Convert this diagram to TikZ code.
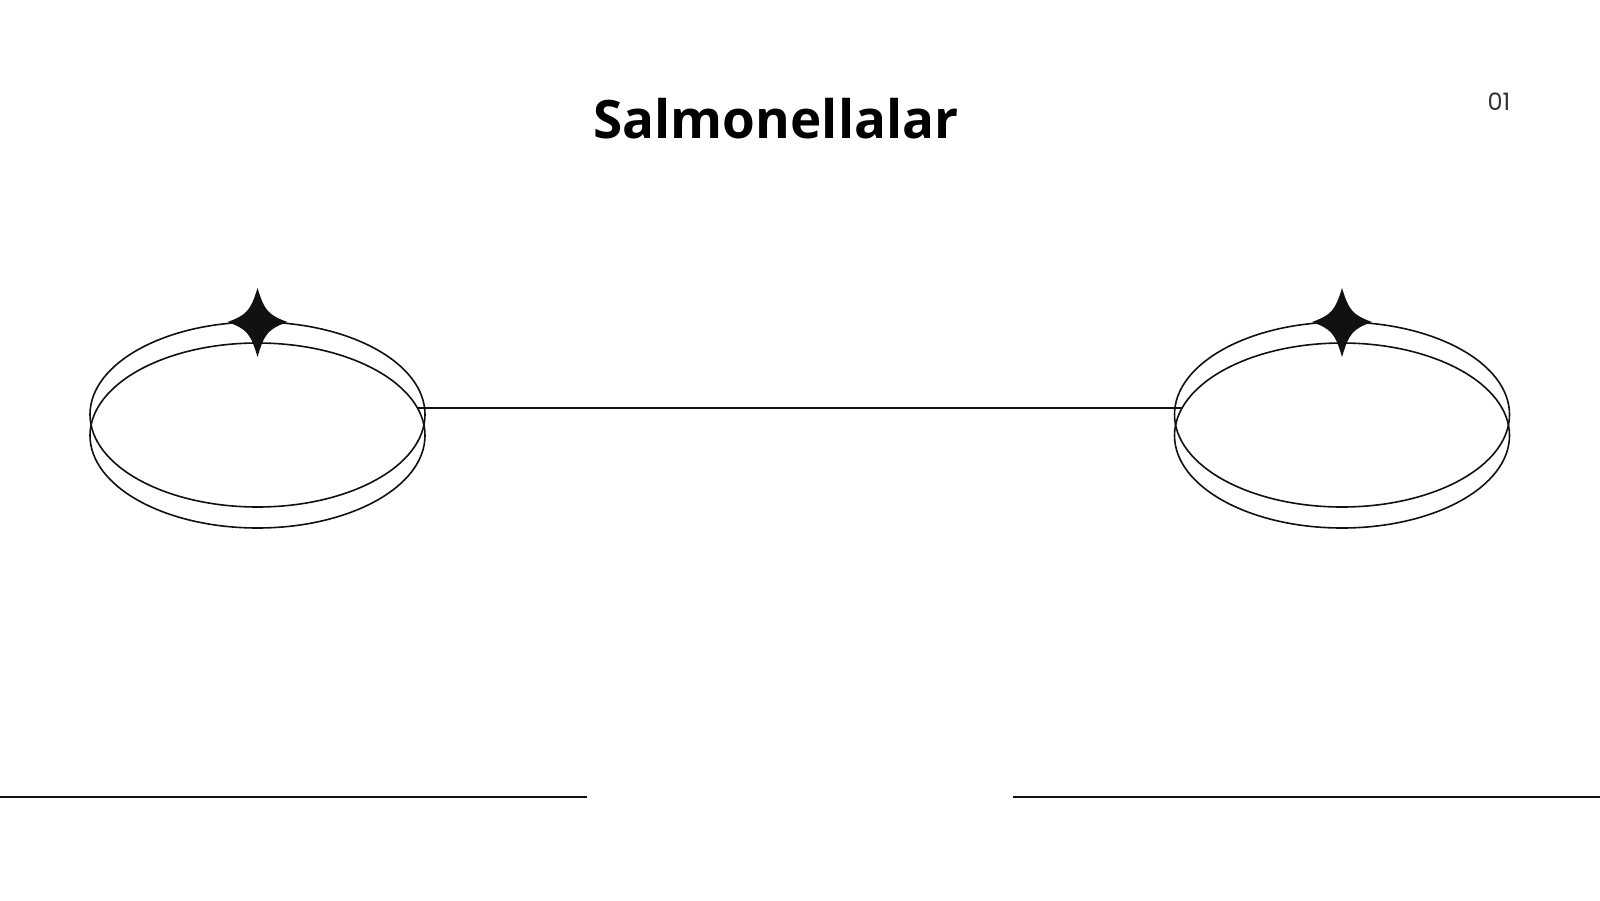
\documentclass[tikz,border=0pt]{standalone}
\usepackage{fontspec}
\usepackage{xcolor}
\usetikzlibrary{shapes.geometric}
\setmainfont{Open Sans}
\newfontfamily\numfont{Poppins}
\definecolor{InkBlack}{HTML}{111111}
\definecolor{PageGray}{HTML}{333333}

\tikzset{
  ring/.style={draw=InkBlack, ellipse, line width=0.8pt, inner sep=0pt,
    minimum width=167.5pt, minimum height=92.5pt},
  rule/.style={draw=InkBlack, line width=0.8pt}
}
\newcommand{\sparkle}[1]{%
  \fill[InkBlack, shift={#1}] (0,-34) .. controls (7,-11) and (11,-7) .. (30,0)
    .. controls (11,7) and (7,11) .. (0,35)
    .. controls (-7,11) and (-11,7) .. (-30,0)
    .. controls (-11,-7) and (-7,-11) .. cycle;}

\begin{document}
\begin{tikzpicture}[x=0.5pt, y=-0.5pt]
            \useasboundingbox[fill=white] (0,0) rectangle (1600,900);
            % title and page number
            \node[anchor=base, font=\bfseries\fontsize{26.5}{32}\selectfont] (title) at (776,138) {Salmonellalar};
            \node[anchor=base, text=PageGray, font=\numfont\fontsize{12}{14}\selectfont] (pagenum) at (1499,110) {01};

            % two rings, each drawn as two stacked ellipses
            \node[ring] (leftTop) at (257.5,414.5) {};
            \node[ring] (leftBot) at (257.5,435.5) {};
            \node[ring] (rightTop) at (1342,414.5) {};
            \node[ring] (rightBot) at (1342,435.5) {};
            \sparkle{(257.5,322)}
            \sparkle{(1342,322)}

            % link between the rings
            \path (leftBot.center) ++(160.4,-27.5) coordinate (linkL);
            \path (rightBot.center) ++(-160.4,-27.5) coordinate (linkR);
            \draw[rule] (linkL) -- (linkR);

            % bottom rules
            \coordinate (ruleLa) at (0,797);
            \coordinate (ruleLb) at (587,797);
            \coordinate (ruleRa) at (1013,797);
            \coordinate (ruleRb) at (1600,797);
            \draw[rule] (ruleLa) -- (ruleLb);
            \draw[rule] (ruleRa) -- (ruleRb);
        \end{tikzpicture}
\end{document}
